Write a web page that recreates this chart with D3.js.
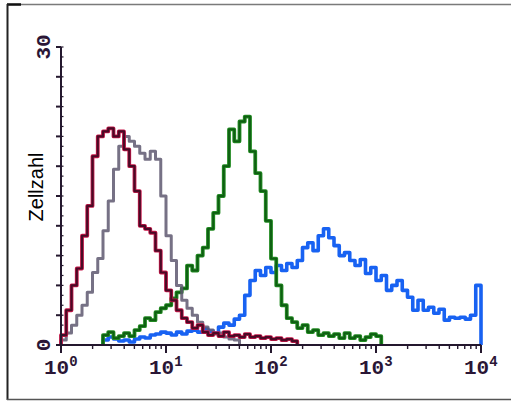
<!DOCTYPE html>
<html>
<head>
<meta charset="utf-8">
<script src="https://cdn.jsdelivr.net/npm/d3@7/dist/d3.min.js"></script>
<style>
  html, body { margin: 0; padding: 0; background: #fff; }
  svg { display: block; }
</style>
</head>
<body>
<svg id="chart" width="511" height="401"></svg>
<script>
// ---- data ----
const binWidth = 0.05;          // decades per channel bin
const xTickExponents = [0, 1, 2, 3, 4];
const yTickLabels = ["0", "30"];
const yLabel = "Zellzahl";

const redStart = 0.0;
const redCounts = [1, 3.5, 6, 7.7, 11, 14, 19, 21, 21.5, 21.8, 21, 21.5, 19.7, 18, 15.5, 12, 11.7, 11.3, 9.5, 7.3,
  5.5, 4.5, 3.5, 2.7, 2.3, 1.7, 2, 1.3, 1, 1.2, 0.9, 1.3, 0.9, 1, 0.8, 1.1, 0.8, 0.9, 0.7, 0.8, 0.6, 0.7, 0.5, 0.6, 0.4];

const grayStart = 0.0;
const grayCounts = [0.5, 1.2, 2, 3, 4, 5.3, 7.3, 8.7, 11.5, 14.5, 17.7, 20, 21, 20.5, 20, 19.3, 18.7, 19.5, 18.7, 15,
  11, 8.5, 6, 4.5, 3.7, 3, 2.3, 1.8, 1.5, 1.1, 1.2, 0.8, 0.6, 0.5];

const greenStart = 0.4;
const greenCounts = [1, 1.3, 0.7, 0.9, 1.2, 0.9, 1.5, 1.9, 2.7, 2.5, 3.3, 3.7, 4, 4.7, 5.3, 5.7, 8, 7.5, 9, 9.8,
  11.7, 13.3, 15, 18, 21.7, 20.5, 22.5, 23, 19.5, 17.3, 15.5, 12.5, 8.7, 6, 4, 2.7, 2.3, 1.7, 2, 1.3,
  1.5, 1, 1.2, 0.9, 1.1, 0.7, 1.2, 0.7, 0.9, 0.5, 0.8, 1.1, 0.9];

const blueStart = 0.4;
const blueCounts = [0.5, 0.8, 0.6, 0.4, 0.5, 0.3, 0.6, 0.8, 0.7, 1.0, 1.1, 1.3, 1.2, 1.0, 1.3, 1.1, 1.4, 1.5, 1.3, 1.6,
  1.4, 1.2, 1.8, 2.2, 2.0, 2.6, 3.0, 5.0, 6.5, 7.5, 7.0, 7.8, 7.3, 8.0, 7.5, 8.2, 7.8, 8.5, 9.8, 10.3,
  9.5, 11.0, 11.7, 10.8, 10.0, 9.0, 9.3, 8.5, 8.0, 8.6, 7.2, 7.8, 6.5, 7.0, 5.5, 6.0, 6.5, 5.5, 4.8, 3.5,
  4.5, 3.5, 3.8, 3.2, 3.6, 2.5, 2.8, 2.7, 2.8, 2.6, 3.0, 6.0];

// ---- chart ----
const svg = d3.select("#chart");
const x = d3.scaleLog().domain([1, 1e4]).range([61, 481]);
const y = d3.scaleLinear().domain([0, 30]).range([345, 47]);

// frame
svg.append("line").attr("x1", 7).attr("x2", 511).attr("y1", 4.5).attr("y2", 4.5)
  .attr("stroke", "#7a7a7a").attr("stroke-width", 1.5);
svg.append("line").attr("x1", 7).attr("x2", 21).attr("y1", 4.5).attr("y2", 4.5)
  .attr("stroke", "#111").attr("stroke-width", 2.5);
svg.append("line").attr("x1", 7.5).attr("x2", 7.5).attr("y1", 4).attr("y2", 400)
  .attr("stroke", "#222").attr("stroke-width", 2);
svg.append("line").attr("x1", 7).attr("x2", 511).attr("y1", 399.5).attr("y2", 399.5)
  .attr("stroke", "#555").attr("stroke-width", 1.5);

function stepPoints(start, counts) {
  const pts = [[Math.pow(10, start), 0]];
  counts.forEach((c, i) => pts.push([Math.pow(10, start + i * binWidth), c]));
  const end = Math.pow(10, start + counts.length * binWidth);
  pts.push([end, counts[counts.length - 1]]);
  pts.push([end, 0]);
  return pts;
}
const line = d3.line().x(d => x(d[0])).y(d => y(d[1])).curve(d3.curveStepAfter);

const plot = svg.append("g");
// blue
plot.append("path").attr("d", line(stepPoints(blueStart, blueCounts)))
  .attr("fill", "none").attr("stroke", "#1862f2").attr("stroke-width", 3.6).attr("stroke-linejoin", "round");
// green
plot.append("path").attr("d", line(stepPoints(greenStart, greenCounts)))
  .attr("fill", "none").attr("stroke", "#228a22").attr("stroke-width", 3.8).attr("stroke-linejoin", "round");
plot.append("path").attr("d", line(stepPoints(greenStart, greenCounts)))
  .attr("fill", "none").attr("stroke", "#0e5e12").attr("stroke-width", 1.8).attr("stroke-linejoin", "round");
// gray
plot.append("path").attr("d", line(stepPoints(grayStart, grayCounts)))
  .attr("fill", "none").attr("stroke", "#5e5870").attr("stroke-width", 3).attr("stroke-opacity", 0.85)
  .attr("stroke-linejoin", "round");
// red
plot.append("path").attr("d", line(stepPoints(redStart, redCounts)))
  .attr("fill", "none").attr("stroke", "#c8184a").attr("stroke-width", 3.8).attr("stroke-linejoin", "round");
plot.append("path").attr("d", line(stepPoints(redStart, redCounts)))
  .attr("fill", "none").attr("stroke", "#4a0a26").attr("stroke-width", 2.2).attr("stroke-linejoin", "round");

// axes
const axisColor = "#24182e";
const axes = svg.append("g").attr("stroke", axisColor).attr("stroke-width", 2).attr("fill", "none");
// y axis
axes.append("line").attr("x1", x(1)).attr("x2", x(1)).attr("y1", y(30)).attr("y2", y(0));
axes.append("line").attr("x1", x(1) - 5).attr("x2", x(1)).attr("y1", y(30)).attr("y2", y(30));
d3.range(0, 31, 3).forEach(v => {
  axes.append("line").attr("x1", x(1) - 5).attr("x2", x(1)).attr("y1", y(v)).attr("y2", y(v));
});
d3.range(0, 31, 1).forEach(v => {
  axes.append("line").attr("x1", x(1)).attr("x2", x(1) + 2.5).attr("y1", y(v)).attr("y2", y(v))
    .attr("stroke-width", 1.2);
});
// x axis
axes.append("line").attr("x1", x(1)).attr("x2", x(1e4)).attr("y1", y(0)).attr("y2", y(0));
xTickExponents.forEach(e => {
  axes.append("line").attr("x1", x(Math.pow(10, e))).attr("x2", x(Math.pow(10, e)))
    .attr("y1", y(0)).attr("y2", y(0) + 8);
});
xTickExponents.slice(0, -1).forEach(e => {
  d3.range(2, 10).forEach(m => {
    const v = m * Math.pow(10, e);
    axes.append("line").attr("x1", x(v)).attr("x2", x(v)).attr("y1", y(0)).attr("y2", y(0) + 4)
      .attr("stroke-width", 1.4);
  });
});

// x tick labels
const labelFont = "'Liberation Mono', 'DejaVu Sans Mono', monospace";
xTickExponents.forEach(e => {
  const t = svg.append("text")
    .attr("x", x(Math.pow(10, e)) - 17).attr("y", 374)
    .attr("font-family", labelFont).attr("font-weight", "bold").attr("font-size", 21)
    .attr("fill", "#2a1636");
  t.append("tspan").text("10");
  t.append("tspan").attr("font-size", 14).attr("dy", -8).text(String(e));
});

// y tick labels (rotated)
[[0, yTickLabels[0]], [30, yTickLabels[1]]].forEach(([v, s]) => {
  svg.append("text")
    .attr("transform", `translate(50,${y(v)}) rotate(-90)`)
    .attr("text-anchor", "middle")
    .attr("font-family", labelFont).attr("font-weight", "bold").attr("font-size", 21)
    .attr("fill", "#2a1636")
    .text(s);
});

// y axis title
svg.append("text")
  .attr("transform", `translate(43,187) rotate(-90)`)
  .attr("text-anchor", "middle")
  .attr("font-family", "'Liberation Sans', Arial, sans-serif").attr("font-size", 20)
  .attr("fill", "#000")
  .text(yLabel);
</script>
</body>
</html>
